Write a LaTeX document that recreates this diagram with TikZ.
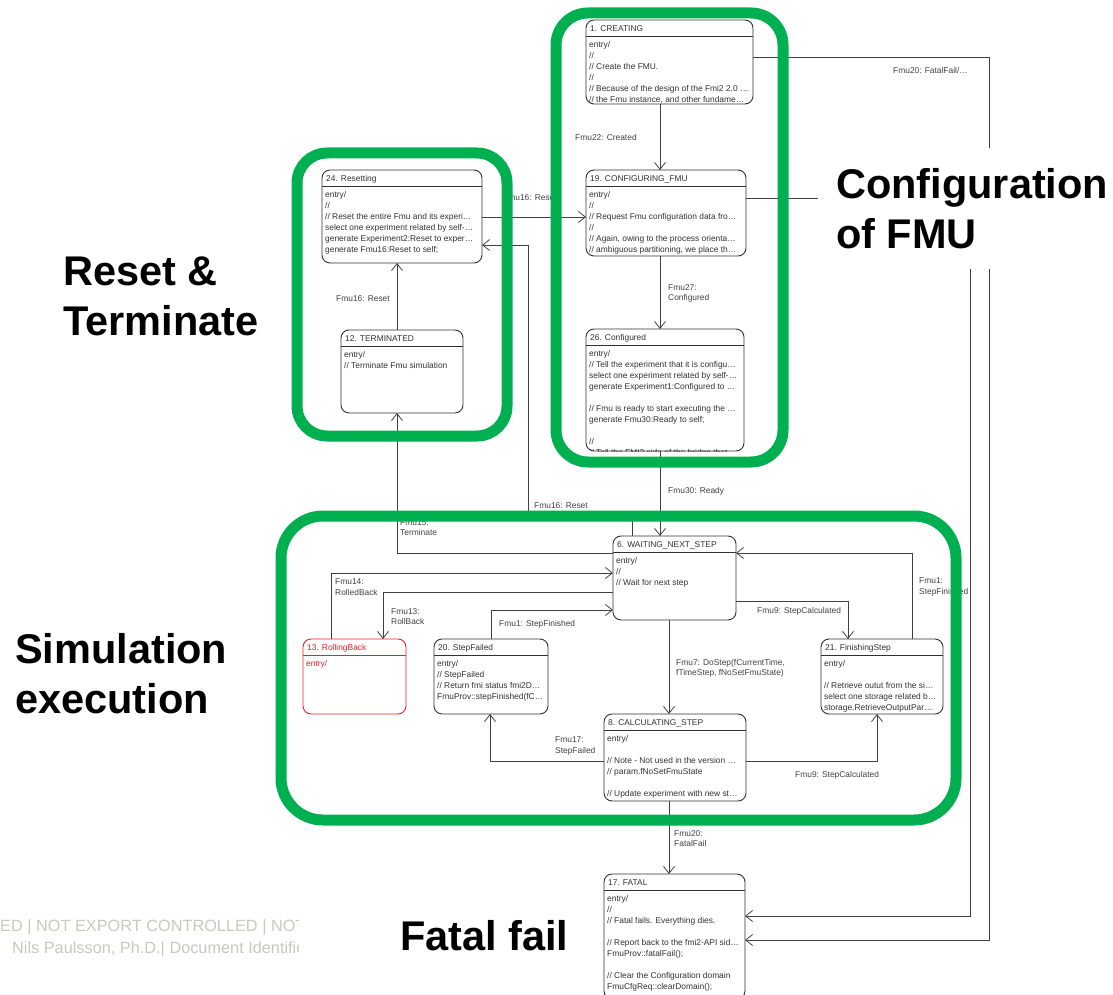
\documentclass[tikz,border=0pt]{standalone}
\usepackage{fontspec}
\setmainfont{Liberation Sans}
\usetikzlibrary{arrows.meta,fit,calc}

\definecolor{framegreen}{RGB}{0,176,80}
\definecolor{stategray}{RGB}{48,48,48}
\definecolor{wiregray}{RGB}{64,64,64}
\definecolor{failred}{RGB}{240,30,30}
\definecolor{footgray}{RGB}{200,200,192}

\newcommand\umlfont{\fontsize{8.4}{11}\selectfont}
\newcommand\wirefont{\fontsize{8.4}{10.5}\selectfont}
\newcommand\bigfont{\bfseries\fontsize{41.5}{50}\selectfont}

\tikzset{
  statebox/.style={draw, rounded corners=8pt, inner sep=0pt, outer sep=0pt, line width=0.9pt},
  statetitle/.style={anchor=base west, inner sep=0pt, font=\umlfont},
  statebody/.style={anchor=north west, inner sep=0pt, align=left, font=\umlfont},
  trans/.style={draw=wiregray, line width=0.8pt, -{Straight Barb[length=7pt,width=11pt]}},
  wirelabel/.style={anchor=north west, inner sep=0pt, align=left, font=\wirefont, text=wiregray},
  groupframe/.style={draw=framegreen, line width=11pt, rounded corners=#1, inner sep=0pt},
  bigtitle/.style={anchor=north west, inner sep=0pt, align=left, font=\bigfont},
  footnote/.style={anchor=base west, inner sep=0pt, font=\fontsize{16.3}{18}\selectfont, text=footgray},
}

% UML state: [style]{name}{x1}{y1}{x2}{y2}{title}{body}
\newcommand\umlstate[8][]{%
  \begin{scope}[color=stategray,#1]
    \node[statebox, fit={(#3,#4)(#5,#6)}] (#2) {};
    \draw[line width=0.9pt] ($(#2.north west)+(0,16)$) -- ($(#2.north east)+(0,16)$);
    \node[statetitle] at ($(#2.north west)+(4,11.5)$) {#7};
    \begin{scope}
      \clip[rounded corners=8pt] (#3,#4) rectangle (#5,#6);
      \node[statebody] at ($(#2.north west)+(3,21)$) {#8};
    \end{scope}
  \end{scope}}

\begin{document}
\begin{tikzpicture}[x=1pt,y=-1pt]
\useasboundingbox (0,0) rectangle (1113,995);

% ---------- states ----------
\umlstate{creating}{586}{20}{753}{104}{1. CREATING}%
  {entry/\\//\\// Create the FMU.\\//\\// Because of the design of the Fmi2 2.0 …\\// the Fmu instance, and other fundame…}
\umlstate{configuring}{586}{170}{746}{256}{19. CONFIGURING\_FMU}%
  {entry/\\//\\// Request Fmu configuration data fro…\\//\\// Again, owing to the process orienta…\\// ambiguous partitioning, we place th…}
\umlstate{configured}{586}{329}{744}{451}{26. Configured}%
  {entry/\\// Tell the experiment that it is configu…\\select one experiment related by self-…\\generate Experiment1:Configured to …\\[11pt]// Fmu is ready to start executing the …\\generate Fmu30:Ready to self;\\[11pt]//\\// Tell the FMI2 side of the bridge that}
\umlstate{resetting}{322}{170}{482}{263}{24. Resetting}%
  {entry/\\//\\// Reset the entire Fmu and its experi…\\select one experiment related by self-…\\generate Experiment2:Reset to exper…\\generate Fmu16:Reset to self;}
\umlstate{terminated}{341}{330}{463}{413}{12. TERMINATED}%
  {entry/\\// Terminate Fmu simulation}
\umlstate{waiting}{613}{536}{736}{620}{6. WAITING\_NEXT\_STEP}%
  {entry/\\//\\// Wait for next step}
\umlstate[color=failred]{rollingback}{303}{639}{406}{714}{13. RollingBack}%
  {entry/}
\umlstate{stepfailed}{434}{639}{548}{714}{20. StepFailed}%
  {entry/\\// StepFailed\\// Return fmi status fmi2D…\\FmuProv::stepFinished(fC…}
\umlstate{calculating}{604}{714}{746}{801}{8. CALCULATING\_STEP}%
  {entry/\\[11pt]// Note - Not used in the version …\\// param.fNoSetFmuState\\[11pt]// Update experiment with new st…}
\umlstate{finishing}{821}{639}{943}{714}{21. FinishingStep}%
  {entry/\\[11pt]// Retrieve outut from the si…\\select one storage related b…\\storage.RetrieveOutputPar…}
\umlstate{fatal}{604}{874}{745}{999}{17. FATAL}%
  {entry/\\//\\// Fatal fails. Everything dies.\\[11pt]// Report back to the fmi2-API sid…\\FmuProv::fatalFail();\\[11pt]// Clear the Configuration domain\\FmuCfgReq::clearDomain();}

% ---------- routing guides ----------
\coordinate (vA) at (660,0);
\coordinate (vW) at (632,0);
\coordinate (vT) at (397,0);
\coordinate (v331) at (331,0);
\coordinate (v383) at (383,0);
\coordinate (v491) at (491,0);
\coordinate (v848) at (848,0);
\coordinate (v912) at (912,0);
\coordinate (v669) at (669,0);
\coordinate (v877) at (877,0);
\coordinate (v490) at (490,0);
\coordinate (hR) at (0,217);
\coordinate (hR2) at (0,245);
\coordinate (hT) at (0,553);
\coordinate (h573) at (0,573);
\coordinate (h592) at (0,592);
\coordinate (h601) at (0,601);
\coordinate (h610) at (0,610);
\coordinate (h761) at (0,761);
\coordinate (h57) at (0,57);
\coordinate (h198) at (0,198);
\coordinate (bendR) at (528,512);
\coordinate (fA) at (989,940);
\coordinate (fB) at (970,916);

% ---------- transitions ----------
\draw[trans] (creating.south -| vA) -- (configuring.north -| vA);
\draw[trans] (configuring.south -| vA) -- (configured.north -| vA);
\draw[trans] (configured.south -| vA) -- (waiting.north -| vA);
\draw[trans] (resetting.east |- hR) -- (configuring.west |- hR);
\draw[trans] (waiting.north -| vW) |- (bendR) |- (resetting.east |- hR2);
\draw[trans] (waiting.west |- hT) -| (terminated.south -| vT);
\draw[trans] (terminated.north -| vT) -- (resetting.south -| vT);
\draw[trans] (rollingback.north -| v331) |- (waiting.west |- h573);
\draw[trans] (waiting.west |- h592) -| (rollingback.north -| v383);
\draw[trans] (stepfailed.north -| v491) |- (waiting.west |- h610);
\draw[trans] (waiting.east |- h601) -| (finishing.north -| v848);
\draw[trans] (finishing.north -| v912) |- (waiting.east |- hT);
\draw[trans] (waiting.south -| v669) -- (calculating.north -| v669);
\draw[trans] (calculating.east |- h761) -| (finishing.south -| v877);
\draw[trans] (calculating.west |- h761) -| (stepfailed.south -| v490);
\draw[trans] (calculating.south -| v669) -- (fatal.north -| v669);
\draw[trans] (creating.east |- h57) -| (fA) -- (fatal.east |- fA);
\draw[trans] (configuring.east |- h198) -| (fB) -- (fatal.east |- fB);

% ---------- transition labels ----------
\node[wirelabel] (l22) at (575,134) {Fmu22: Created};
\node[wirelabel] (l20a) at (893,67) {Fmu20: FatalFail/…};
\node[wirelabel] (l27) at (668,284) {Fmu27:\\Configured};
\node[wirelabel] (l30) at (668,487) {Fmu30: Ready};
\node[wirelabel] (l16a) at (503,194) {Fmu16: Reset};
\node[wirelabel] (l16b) at (336,295) {Fmu16: Reset};
\node[wirelabel] (l16c) at (534,502) {Fmu16: Reset};
\node[wirelabel] (l15) at (400,519.5) {Fmu15:\\Terminate};
\node[wirelabel] (l14) at (335,579) {Fmu14:\\RolledBack};
\node[wirelabel] (l13) at (391,608) {Fmu13:\\RollBack};
\node[wirelabel] (l1a) at (499,620) {Fmu1: StepFinished};
\node[wirelabel] (l9a) at (757,607) {Fmu9: StepCalculated};
\node[wirelabel] (l1b) at (919,578) {Fmu1:\\StepFinished};
\node[wirelabel] (l7) at (676,659) {Fmu7: DoStep(fCurrentTime,\\fTimeStep, fNoSetFmuState)};
\node[wirelabel] (l9b) at (795,771) {Fmu9: StepCalculated};
\node[wirelabel] (l17) at (555,737) {Fmu17:\\StepFailed};
\node[wirelabel] (l20b) at (674,830) {Fmu20:\\FatalFail};

% ---------- group captions ----------
\node[bigtitle, fill=white, inner xsep=18pt, inner ysep=20pt] (cfgtitle) at (818,148) {Configuration\\of FMU};
\node[bigtitle] (rsttitle) at (63,257) {Reset \&\\Terminate};
\node[bigtitle] (simtitle) at (15,633) {Simulation\\execution};
\node[bigtitle] (fataltitle) at (400,920) {Fatal fail};

% ---------- group frames ----------
\node[groupframe=32pt, fit={(556,13)(783,462)}] (cfgframe) {};
\node[groupframe=30pt, fit={(297,153)(507,436)}] (rstframe) {};
\node[groupframe=42pt, fit={(281,516)(956,820)}] (simframe) {};

% ---------- footer ----------
\begin{scope}
  \clip (0,905) rectangle (298,965);
  \node[footnote] (foot1) at (0,931) {ED | NOT EXPORT CONTROLLED | NOT};
  \node[footnote] (foot2) at (12,953) {Nils Paulsson, Ph.D.| Document Identific};
\end{scope}
\end{tikzpicture}
\end{document}
